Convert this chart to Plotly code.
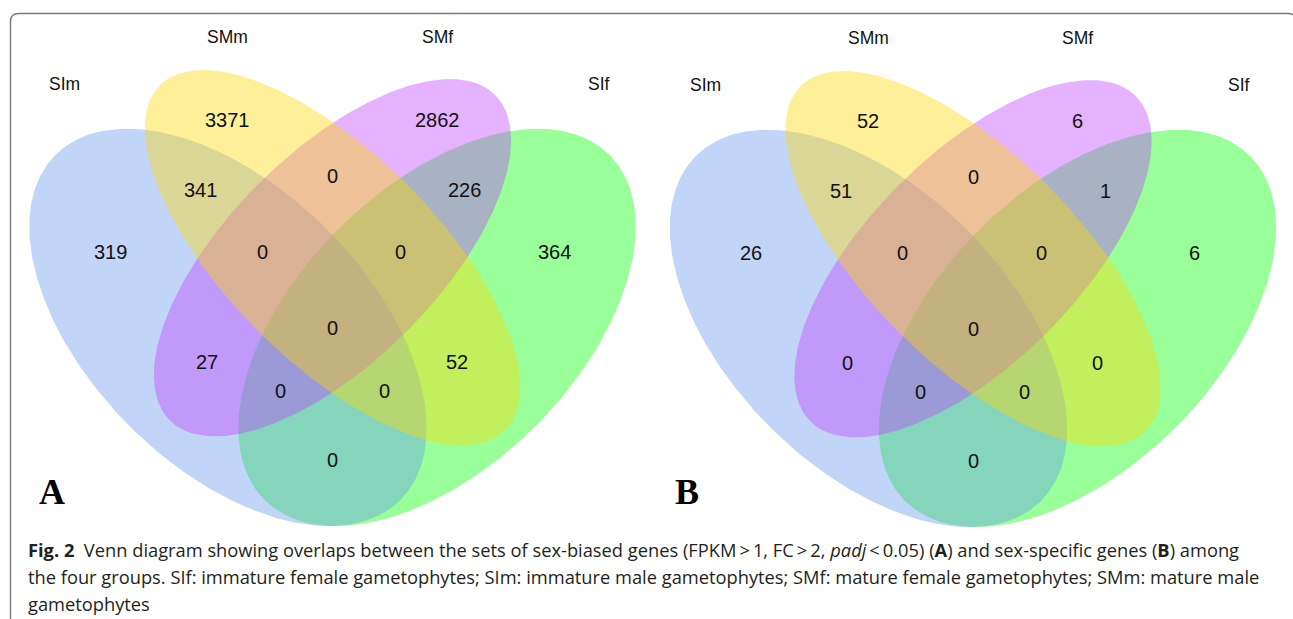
import numpy as np
import plotly.graph_objects as go

# ---------------- data ----------------
categories = ["SIm", "SMm", "SMf", "SIf"]
panel_letters = ["A", "B"]

# region keys (which sets a region belongs to)
regions = ["SMm", "SMf", "SIm&SMm", "SMm&SMf", "SMf&SIf",
           "SIm", "SIm&SMm&SMf", "SMm&SMf&SIf", "SIf",
           "SIm&SMm&SMf&SIf", "SIm&SMf", "SMm&SIf",
           "SIm&SMf&SIf", "SIm&SMm&SIf", "SIm&SIf"]
counts_A = [3371, 2862, 341, 0, 226, 319, 0, 0, 364, 0, 27, 52, 0, 0, 0]
counts_B = [52, 6, 51, 0, 1, 26, 0, 0, 6, 0, 0, 0, 0, 0, 0]

caption_lines = [
    "<b>Fig. 2</b>\u00a0\u00a0Venn diagram showing overlaps between the sets of sex-biased genes "
    "(FPKM\u2009&gt;\u20091, FC\u2009&gt;\u20092, <i>padj</i>\u2009&lt;\u20090.05) (<b>A</b>) and sex-specific genes (<b>B</b>) among",
    "the four groups. SIf: immature female gametophytes; SIm: immature male gametophytes; "
    "SMf: mature female gametophytes; SMm: mature male",
    "gametophytes",
]

# ---------------- layout constants (Venn units) ----------------
# ellipse geometry per set: center x, center y, semi-major, semi-minor, rotation (deg)
ellipse_geom = {
    "SIm": (0.35, 0.47, 0.35, 0.20, -45),
    "SMm": (0.50, 0.57, 0.35, 0.15, -45),
    "SMf": (0.50, 0.57, 0.33, 0.15, 45),
    "SIf": (0.65, 0.47, 0.35, 0.20, 45),
}
fills = {
    "SIf": "rgba(0,255,0,0.4)",
    "SIm": "rgba(100,149,237,0.4)",
    "SMf": "rgba(191,62,255,0.4)",
    "SMm": "rgba(255,215,0,0.4)",
}
draw_order = ["SIf", "SIm", "SMf", "SMm"]

region_pos = {
    "SMm": (0.35, 0.768), "SMf": (0.65, 0.768), "SIm&SMm": (0.31, 0.667),
    "SMm&SMf": (0.50, 0.687), "SMf&SIf": (0.69, 0.667), "SIm": (0.181, 0.578),
    "SIm&SMm&SMf": (0.399, 0.578), "SMm&SMf&SIf": (0.598, 0.578), "SIf": (0.818, 0.578),
    "SIm&SMm&SMf&SIf": (0.50, 0.469), "SIm&SMf": (0.32, 0.42), "SMm&SIf": (0.679, 0.42),
    "SIm&SMf&SIf": (0.425, 0.379), "SIm&SMm&SIf": (0.574, 0.379), "SIm&SIf": (0.50, 0.28),
}
cat_pos = {"SIm": (0.116, 0.819), "SMm": (0.35, 0.887), "SMf": (0.65, 0.887), "SIf": (0.882, 0.819)}

W, H = 1293, 619
U = 697.0  # px per Venn unit
# panel pixel offsets: px = ox + U*X ; py = oy - U*Y
panels = [
    dict(ox=-16.0, oy=655.0, dom=[0, 640 / W], letter_px=37.0, counts=counts_A),
    dict(ox=624.5, oy=656.0, dom=[640 / W, 1], letter_px=673.0, counts=counts_B),
]

fig = go.Figure()


def ellipse_pts(cx, cy, a, b, rot, n=400):
    t = np.linspace(0, 2 * np.pi, n)
    r = np.deg2rad(rot)
    x = cx + a * np.cos(t) * np.cos(r) - b * np.sin(t) * np.sin(r)
    y = cy + a * np.cos(t) * np.sin(r) + b * np.sin(t) * np.cos(r)
    return x, y


annotations = []
for i, p in enumerate(panels):
    xa = "x" if i == 0 else "x2"
    ya = "y" if i == 0 else "y2"
    for s in draw_order:
        ex, ey = ellipse_pts(*ellipse_geom[s])
        fig.add_trace(go.Scatter(x=ex, y=ey, mode="lines", fill="toself",
                                 fillcolor=fills[s], line=dict(width=0),
                                 hoverinfo="skip", showlegend=False,
                                 xaxis=xa, yaxis=ya))
    for reg, val in zip(regions, p["counts"]):
        x, y = region_pos[reg]
        annotations.append(dict(x=x, y=y, xref=xa, yref=ya, text=str(val), showarrow=False,
                                xanchor="center", yanchor="middle",
                                font=dict(family="Liberation Sans, Arial", size=20, color="#111111")))
    for c in categories:
        x, y = cat_pos[c]
        annotations.append(dict(x=x, y=y, xref=xa, yref=ya, text=c, showarrow=False,
                                xanchor="center", yanchor="middle",
                                font=dict(family="Liberation Sans, Arial", size=17.5, color="#111111")))
    # panel letter (pixel placement converted to paper)
    annotations.append(dict(x=p["letter_px"] / W, y=1 - 492 / H, xref="paper", yref="paper",
                            text="<b>%s</b>" % panel_letters[i], showarrow=False,
                            xanchor="left", yanchor="middle",
                            font=dict(family="Liberation Serif, Times New Roman", size=36, color="#000000")))

# caption
for k, line in enumerate(caption_lines):
    annotations.append(dict(x=26 / W, y=1 - (549 + 27 * k) / H, xref="paper", yref="paper",
                            text=line, showarrow=False, xanchor="left", yanchor="middle",
                            font=dict(family="Open Sans", size=18.3, color="#231f20")))

# rounded border
L, T, R, B = 10.5 / W, 1 - 13.5 / H, 1296 / W, -0.2
rx, ry = 8 / W, 8 / H
path = (f"M {L} {B} L {L} {T - ry} Q {L} {T} {L + rx} {T} L {R - rx} {T} "
        f"Q {R} {T} {R} {T - ry} L {R} {B}")
shapes = [dict(type="path", path=path, xref="paper", yref="paper",
               line=dict(color="#7a7a7a", width=1.4))]

ax_common = dict(visible=False, showgrid=False, zeroline=False, fixedrange=True, autorange=False)
p0, p1 = panels
fig.update_layout(
    width=W, height=H, margin=dict(l=0, r=0, t=0, b=0),
    paper_bgcolor="white", plot_bgcolor="rgba(0,0,0,0)",
    xaxis=dict(domain=p0["dom"], range=[(0 - p0["ox"]) / U, (640 - p0["ox"]) / U], **ax_common),
    yaxis=dict(domain=[0, 1], range=[(p0["oy"] - H) / U, p0["oy"] / U], anchor="x", **ax_common),
    xaxis2=dict(domain=p1["dom"], range=[(640 - p1["ox"]) / U, (W - p1["ox"]) / U], anchor="y2", **ax_common),
    yaxis2=dict(domain=[0, 1], range=[(p1["oy"] - H) / U, p1["oy"] / U], anchor="x2", **ax_common),
    annotations=annotations, shapes=shapes, showlegend=False,
)

fig.write_html("out.html", config={"displayModeBar": False},
               post_script="document.body.style.margin='0';document.body.style.overflow='hidden';")
